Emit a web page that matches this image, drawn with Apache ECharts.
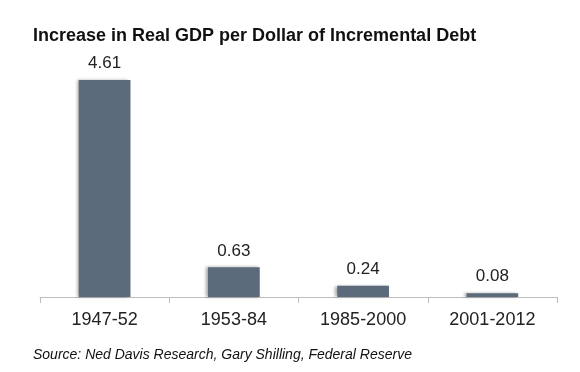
<!DOCTYPE html>
<html>
<head>
<meta charset="utf-8">
<script src="https://cdn.jsdelivr.net/npm/echarts@6/dist/echarts.min.js"></script>
<style>html,body{margin:0;padding:0;background:#fff;}#c{width:580px;height:372px;}</style>
</head>
<body>
<div id="c"></div>
<script>
const categories = ['1947-52', '1953-84', '1985-2000', '2001-2012'];
const values = [4.61, 0.63, 0.24, 0.08];
const titleText = 'Increase in Real GDP per Dollar of Incremental Debt';
const sourceText = 'Source: Ned Davis Research, Gary Shilling, Federal Reserve';

const chart = echarts.init(document.getElementById('c'), null, {renderer: 'canvas'});
chart.setOption({
  backgroundColor: '#fff',
  animation: false,
  title: [
    {text: titleText, left: 28, top: 22, textStyle: {fontFamily: 'Liberation Sans, Arial, sans-serif', fontWeight: 'bold', fontSize: 18, color: '#111'}},
    {text: sourceText, left: 28, top: 343, textStyle: {fontFamily: 'Liberation Sans, Arial, sans-serif', fontStyle: 'italic', fontWeight: 'normal', fontSize: 14, color: '#111'}}
  ],
  grid: {left: 40, right: 23, top: 80, bottom: 75},
  xAxis: {
    type: 'category',
    data: categories,
    axisLine: {lineStyle: {color: '#bdbdbd', width: 1}},
    axisTick: {show: true, length: 6, lineStyle: {color: '#bdbdbd'}},
    axisLabel: {fontFamily: 'Liberation Sans, Arial, sans-serif', fontSize: 18, color: '#222', margin: 14}
  },
  yAxis: {
    type: 'value', min: 0, max: 4.61, show: false, splitLine: {show: false}
  },
  series: [{
    type: 'bar',
    data: values,
    barWidth: '40%',
    itemStyle: {color: '#5b6b7b', shadowColor: 'rgba(0,0,0,0.35)', shadowBlur: 3, shadowOffsetX: -2},
    label: {show: true, position: 'top', distance: 8, fontFamily: 'Liberation Sans, Arial, sans-serif', fontSize: 17, color: '#222',
      formatter: p => p.value.toFixed(2)}
  }]
});
</script>
</body>
</html>
